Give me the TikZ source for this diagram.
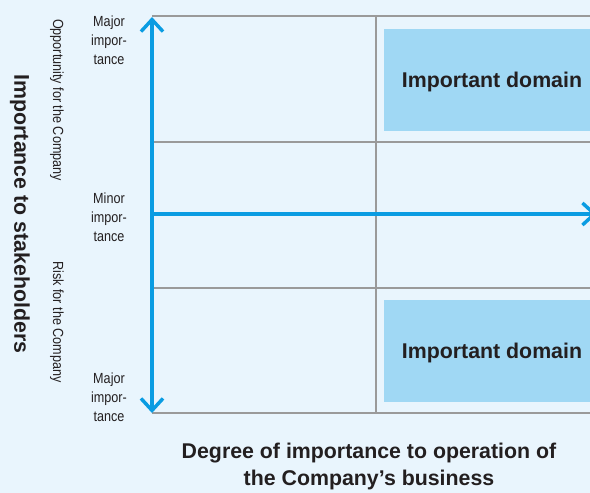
\documentclass[tikz,border=0pt]{standalone}
\usepackage{fontspec}
\setmainfont{Liberation Sans}
\newfontfamily\narrowfont[FakeStretch=0.86]{Liberation Sans}
\usetikzlibrary{arrows.meta}
\definecolor{bgblue}{HTML}{E9F5FD}
\definecolor{axisblue}{HTML}{0A9CE2}
\definecolor{boxblue}{HTML}{A0D8F4}
\definecolor{inkdark}{HTML}{231F20}
\definecolor{gridgray}{HTML}{9A9A9A}
\tikzset{>={Straight Barb[length=9pt,width=16.5pt]}}
\tikzset{
  gridline/.style={draw=gridgray,line width=0.8pt},
  axisline/.style={draw=axisblue,line width=2.6pt},
  domainbox/.style={fill=boxblue,text=inkdark,font=\bfseries\fontsize{16}{19}\selectfont,
    minimum width=162pt,minimum height=76.5pt,inner sep=0pt,text height=11.5pt,text depth=0pt},
  levellabel/.style={text=inkdark,font=\narrowfont\fontsize{11}{14.2}\selectfont,
    align=center,inner sep=0pt},
  sidelabel/.style={text=inkdark,font=\narrowfont\fontsize{11}{13}\selectfont,
    rotate=-90,inner sep=0pt},
  titletext/.style={text=inkdark,font=\bfseries\fontsize{16}{20.25}\selectfont,align=center,inner sep=0pt}
}

\begin{document}
\begin{tikzpicture}[x=0.75pt,y=-0.75pt]
  \fill[bgblue] (0,0) rectangle (590,493);
  \useasboundingbox (0,0) rectangle (590,493);
  % important domains
  \node[domainbox] (domTop) at (492,80) {Important domain};
  \node[domainbox] (domBot) at (492,351) {Important domain};
  % grid
  \draw[gridline] (152,16) -- (590,16) (152,142) -- (590,142)
    (152,288) -- (590,288) (152,413) -- (590,413);
  \draw[gridline] (376,16) -- (376,413);
  % axes
  \coordinate (axTop) at (152,17);
  \coordinate (axBot) at (152,413);
  \coordinate (axMid) at (152,214);
  \coordinate (axRight) at (597,214);
  \draw[axisline,<->] (axBot) -- (axTop);
  \draw[axisline,->] (axMid) -- (axRight);
  % labels
  \node[levellabel] (majTop) at (109,40) {Major\\impor-\\tance};
  \node[levellabel] (minor) at (109,217) {Minor\\impor-\\tance};
  \node[levellabel] (majBot) at (109,397) {Major\\impor-\\tance};
  \node[sidelabel] (opp) at (57,100) {Opportunity for the Company};
  \node[sidelabel] (risk) at (57,322) {Risk for the Company};
  \node[titletext,rotate=-90] (stake) at (20,214) {Importance to stakeholders};
  \node[titletext] (degree) at (369,466) {Degree of importance to operation of\\the Company’s business};
\end{tikzpicture}
\end{document}
